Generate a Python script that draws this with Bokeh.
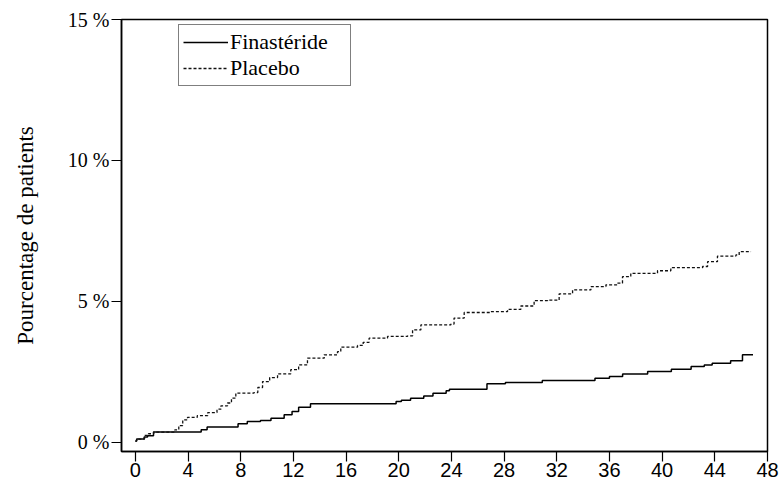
from bokeh.plotting import figure
from bokeh.models import Range1d, FixedTicker, Legend, LegendItem
from bokeh.embed import file_html
from bokeh.resources import INLINE

# Data (months, cumulative % of patients)
fin_t = [0, 0.1, 0.67, 0.93, 1.38, 5.0, 5.45, 7.8, 8.5, 9.5, 10.3, 11.3, 11.9, 12.4,
         13.3, 19.8, 20.2, 20.9, 21.9, 22.6, 23.6, 23.85, 26.7, 28.1, 30.9, 34.9,
         36.0, 37.0, 38.9, 40.7, 42.2, 43.2, 43.8, 45.2, 46.1, 46.9]
fin_v = [0.05, 0.12, 0.19, 0.24, 0.37, 0.45, 0.55, 0.66, 0.74, 0.78, 0.86, 0.98, 1.10, 1.25,
         1.37, 1.45, 1.50, 1.57, 1.65, 1.75, 1.83, 1.89, 2.08, 2.13, 2.20, 2.28,
         2.34, 2.43, 2.52, 2.60, 2.69, 2.75, 2.81, 2.90, 3.11, 3.11]

pla_t = [0, 0.1, 0.7, 1.0, 1.4, 3.0, 3.3, 3.6, 3.96, 4.7, 5.5, 6.2, 6.5, 7.0, 7.3, 7.63,
         9.0, 9.3, 9.66, 10.2, 10.8, 11.8, 12.4, 13.07, 14.34, 15.35, 15.6, 16.87, 17.3,
         17.75, 19.15, 20.67, 21.05, 21.68, 23.96, 24.2, 24.97, 26.99, 28.26, 29.27, 30.28,
         31.3, 32.18, 33.2, 34.59, 35.73, 36.6, 36.99, 37.62, 39.65, 40.66, 43.07, 43.45,
         44.2, 45.6, 45.85, 46.75]
pla_v = [0.05, 0.12, 0.25, 0.31, 0.37, 0.45, 0.60, 0.80, 0.89, 0.95, 1.06, 1.18, 1.30, 1.40, 1.57, 1.75,
         1.77, 1.95, 2.16, 2.30, 2.43, 2.58, 2.75, 2.99, 3.11, 3.22, 3.38, 3.44, 3.55,
         3.70, 3.76, 3.78, 3.99, 4.17, 4.20, 4.41, 4.61, 4.64, 4.72, 4.84, 5.03,
         5.05, 5.27, 5.41, 5.53, 5.59, 5.65, 5.88, 6.00, 6.09, 6.20, 6.24, 6.41,
         6.61, 6.65, 6.77, 6.77]

x_ticks = [0, 4, 8, 12, 16, 20, 24, 28, 32, 36, 40, 44, 48]
y_ticks = [0, 5, 10, 15]
y_tick_labels = ["0 %", "5 %", "10 %", "15 %"]
series_names = ["Finastéride", "Placebo"]
y_label = "Pourcentage de patients"

p = figure(width=783, height=485,
           x_range=Range1d(-1.05, 48), y_range=Range1d(-0.32, 15),
           output_backend="svg", toolbar_location=None,
           min_border_left=121, min_border_right=16,
           min_border_top=19, min_border_bottom=34)

p.background_fill_color = "white"
p.border_fill_color = "white"
p.outline_line_color = "black"
p.outline_line_width = 1.5
p.outline_line_alpha = 1.0
p.xgrid.visible = False
p.ygrid.visible = False

r1 = p.step(fin_t, fin_v, mode="after", line_color="black", line_width=1.5)
r2 = p.step(pla_t, pla_v, mode="after", line_color="#111111", line_width=1.3,
            line_dash="3 2")

# X axis
xa = p.xaxis[0]
xa.ticker = FixedTicker(ticks=x_ticks)
xa.major_label_text_font = "Liberation Sans"
xa.major_label_text_font_size = "20px"
xa.major_label_text_color = "black"
xa.major_tick_out = 10
xa.major_tick_in = 0
xa.minor_tick_out = 0
xa.minor_tick_in = 0
xa.major_label_standoff = 1
xa.axis_line_color = "black"
xa.axis_line_width = 1.5
xa.major_tick_line_color = "black"
xa.major_tick_line_width = 1.2

# Y axis
ya = p.yaxis[0]
ya.ticker = FixedTicker(ticks=y_ticks)
ya.major_label_overrides = {t: lab for t, lab in zip(y_ticks, y_tick_labels)}
ya.major_label_text_font = "Liberation Serif"
ya.major_label_text_font_size = "20px"
ya.major_label_text_color = "black"
ya.major_tick_out = 10
ya.major_tick_in = 0
ya.minor_tick_out = 0
ya.minor_tick_in = 0
ya.major_label_standoff = 2
ya.axis_line_color = "black"
ya.axis_line_width = 1.5
ya.major_tick_line_color = "black"
ya.major_tick_line_width = 1.2
ya.axis_label = y_label
ya.axis_label_text_font = "Liberation Serif"
ya.axis_label_text_font_size = "23px"
ya.axis_label_text_font_style = "normal"
ya.axis_label_text_color = "black"
ya.axis_label_standoff = 27

legend = Legend(items=[LegendItem(label=series_names[0], renderers=[r1]),
                       LegendItem(label=series_names[1], renderers=[r2])],
                location=(57, 365))
legend.label_text_font = "Liberation Serif"
legend.label_text_font_size = "22px"
legend.label_text_color = "black"
legend.glyph_width = 45
legend.glyph_height = 22
legend.label_height = 22
legend.label_width = 116
legend.label_standoff = 2
legend.spacing = 0
legend.padding = 4
legend.margin = 0
legend.border_line_color = "black"
legend.border_line_width = 1.2
legend.background_fill_color = "white"
legend.background_fill_alpha = 1.0
p.add_layout(legend)

open("out.html", "w").write(file_html(p, INLINE))
